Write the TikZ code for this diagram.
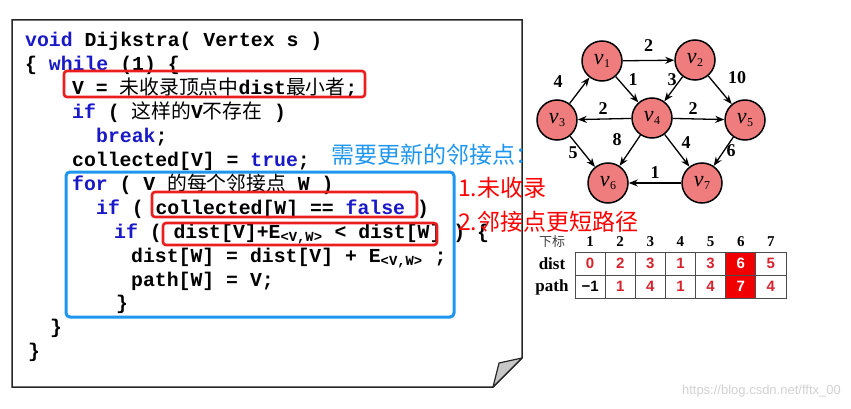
\documentclass[tikz,border=0pt]{standalone}
\usepackage{fontspec}
\setmainfont{Liberation Serif}
\setsansfont{Liberation Sans}
\setmonofont{Liberation Mono}
\newfontfamily\cjk{Noto Sans CJK SC}
\usetikzlibrary{arrows.meta}
\definecolor{kwblue}{RGB}{25,25,200}
\definecolor{hlred}{RGB}{235,30,30}
\definecolor{hlblue}{RGB}{30,150,240}
\definecolor{nodefill}{RGB}{240,125,125}
\definecolor{numred}{RGB}{215,35,45}
\definecolor{tabred}{RGB}{240,0,0}
\newcommand{\kw}[1]{\textcolor{kwblue}{#1}}
\newcommand{\sub}[1]{\textsubscript{#1}}
\newcommand{\vlab}[1]{\textit{v}\kern0.5pt\raisebox{-0.35ex}{\fontsize{12}{12}\selectfont #1}}

\begin{document}
\begin{tikzpicture}[x=1pt,y=-1pt,
  code/.style={anchor=base west,inner sep=0pt,font=\fontsize{19.8}{24}\selectfont\ttfamily\bfseries},
  redbox/.style={draw=hlred,line width=2.6pt,rounded corners=3pt},
  vert/.style={circle,draw,line width=1.5pt,fill=nodefill,minimum size=40pt,inner sep=0pt,font=\fontsize{22}{22}\selectfont},
  arr/.style={line width=1.3pt,-{Stealth[length=9pt,width=7pt]}},
  lbl/.style={font=\fontsize{18}{18}\selectfont\bfseries,inner sep=1pt},
  cell/.style={draw=black!70,line width=0.8pt,minimum width=30.14pt,minimum height=23pt,inner sep=0pt,font=\fontsize{15}{15}\selectfont\sffamily\bfseries},
  note/.style={anchor=west,inner sep=0pt,font=\cjk\fontsize{23}{23}\selectfont}]
\useasboundingbox (0,0) rectangle (851,409);

% page with folded corner
\draw[line width=1.5pt,black!85] (12,20) -- (522,20) -- (522,358) -- (493,387) -- (12,387) -- cycle;
\draw[line width=1.2pt,black!85,fill=black!22,line join=round] (522,358) -- (499,363) -- (493,387) -- cycle;

% pseudo code
\node[code] (l1) at (25,47) {\kw{void} Dijkstra( Vertex s )};
\node[code] (l2) at (25,70.9) {\{ \kw{while} (1) \{};
\node[code] (l3) at (72,94.8) {V = {\cjk\mdseries 未收录顶点中}dist{\cjk\mdseries 最小者};};
\node[code] (l4) at (72,118.7) {\kw{if} ( {\cjk\mdseries 这样的}V{\cjk\mdseries 不存在} )};
\node[code] (l5) at (96,142.6) {\kw{break};};
\node[code] (l6) at (72,166.5) {collected[V] = \kw{true};};
\node[code] (l7) at (72,190.4) {\kw{for} ( V {\cjk\mdseries 的每个邻接点} W )};
\node[code] (l8) at (96,214.3) {\kw{if} ( collected[W] == \kw{false} )};
\node[code] (l9) at (114,238.2) {\kw{if} ( dist[V]+E\sub{<V,W>} < dist[W] ) \{};
\node[code] (l10) at (131,262.1) {dist[W] = dist[V] + E\sub{<V,W>} ;};
\node[code] (l11) at (131,286) {path[W] = V;};
\node[code] (l12) at (116,309.9) {\}};
\node[code] (l13) at (50,333.8) {\}};
\node[code] (l14) at (28,357.7) {\}};

% highlights
\draw[draw=hlblue,line width=3pt,rounded corners=4pt] (66,172) rectangle (454,317);
\draw[redbox] (64,71) rectangle (365,97);
\draw[redbox] (152,192) rectangle (417,217);
\draw[redbox] (163,223) rectangle (437,245);

% graph
\node[vert] (v1) at (602,61) {\vlab{1}};
\node[vert] (v2) at (695,60) {\vlab{2}};
\node[vert] (v3) at (557,120) {\vlab{3}};
\node[vert] (v4) at (652,118) {\vlab{4}};
\node[vert] (v5) at (745,120) {\vlab{5}};
\node[vert] (v6) at (608,183) {\vlab{6}};
\node[vert] (v7) at (702,183) {\vlab{7}};
\draw[arr] (v1) -- node[lbl,yshift=15pt] {2} (v2);
\draw[arr] (v3) -- node[lbl,xshift=-21.5pt,yshift=8.5pt] {4} (v1);
\draw[arr] (v1) -- node[lbl,xshift=6pt,yshift=9.5pt] {1} (v4);
\draw[arr] (v2) -- node[lbl,xshift=-1.5pt,yshift=9pt] {3} (v4);
\draw[arr] (v2) -- node[lbl,xshift=17pt,yshift=12pt] {10} (v5);
\draw[arr] (v4) -- node[lbl,xshift=-1.5pt,yshift=10pt] {2} (v3);
\draw[arr] (v4) -- node[lbl,xshift=-5.5pt,yshift=10pt] {2} (v5);
\draw[arr] (v4) -- node[lbl,xshift=-13pt,yshift=10.5pt] {8} (v6);
\draw[arr] (v3) -- node[lbl,xshift=-9.5pt,yshift=-1.5pt] {5} (v6);
\draw[arr] (v4) -- node[lbl,xshift=9pt,yshift=7.5pt] {4} (v7);
\draw[arr] (v5) -- node[lbl,xshift=7.5pt,yshift=0.5pt] {6} (v7);
\draw[arr] (v7) -- node[lbl,yshift=10pt] {1} (v6);

% table
\node[font=\cjk\fontsize{13}{13}\selectfont,text=black!75] (idx) at (552,242) {下标};
\node[font=\fontsize{17}{17}\selectfont\bfseries] (rdist) at (552,264) {dist};
\node[font=\fontsize{17}{17}\selectfont\bfseries] (rpath) at (552,287) {path};
\foreach \i/\d/\p/\bg/\tc in {1/0/{\textcolor{black}{−1}}/white/numred,2/2/1/white/numred,3/3/4/white/numred,
  4/1/1/white/numred,5/3/4/white/numred,6/6/7/tabred/white,7/5/4/white/numred}{
  \node[font=\fontsize{15}{15}\selectfont\bfseries] (h\i) at ({590.07+30.14*(\i-1)},242) {\i};
  \node[cell,fill=\bg,text=\tc] (d\i) at ({590.07+30.14*(\i-1)},263.5) {\d};
  \node[cell,fill=\bg,text=\tc] (p\i) at ({590.07+30.14*(\i-1)},286.5) {\p};
}

% notes
\node[note,text=hlblue] (need) at (331,155) {需要更新的邻接点：};
\node[note,text=red] (n1) at (458,188) {1.未收录};
\node[note,text=red] (n2) at (458,222) {2.邻接点更短路径};

\node[anchor=east,inner sep=0pt,font=\sffamily\fontsize{13}{13}\selectfont,text=black!18] (wm) at (841,391) {https://blog.csdn.net/fftx\_00};
\end{tikzpicture}
\end{document}
